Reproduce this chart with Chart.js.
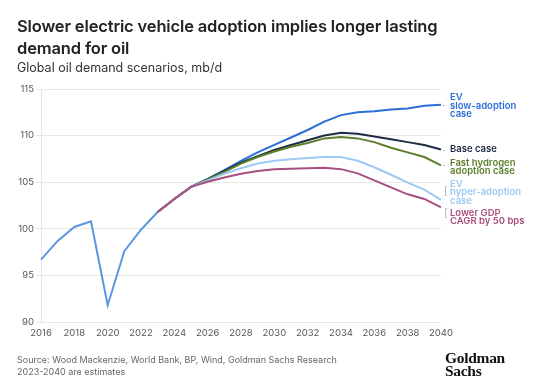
<!DOCTYPE html>
<html>
<head>
<meta charset="utf-8">
<script src="https://cdn.jsdelivr.net/npm/chart.js@4"></script>
<style>
  html, body { margin: 0; padding: 0; background: #fff; }
  #wrap { position: relative; width: 550px; height: 387px; overflow: hidden; font-family: Inter, "Noto Sans", sans-serif; }
  canvas { position: absolute; left: 0; top: 0; }
  .title { position: absolute; left: 17px; top: 15px; font-size: 16.5px; font-weight: 600; line-height: 22px; color: #222; letter-spacing: -0.15px; }
  .sub { position: absolute; left: 17px; top: 60px; font-size: 12.5px; color: #333; }
  .foot { position: absolute; left: 17px; top: 354px; font-size: 9px; line-height: 12px; color: #666; }
  .logo { position: absolute; left: 445px; top: 351px; font-family: "Liberation Serif", "DejaVu Serif", serif; font-weight: bold; font-size: 15.5px; line-height: 13px; color: #111; letter-spacing: -0.3px; }
</style>
</head>
<body>
<div id="wrap">
  <canvas id="c" width="550" height="387"></canvas>
  <div class="title">Slower electric vehicle adoption implies longer lasting<br>demand for oil</div>
  <div class="sub">Global oil demand scenarios, mb/d</div>
  <div class="foot">Source: Wood Mackenzie, World Bank, BP, Wind, Goldman Sachs Research<br>2023-2040 are estimates</div>
  <div class="logo">Goldman<br>Sachs</div>
</div>
<script>
const years = ['2016','2017','2018','2019','2020','2021','2022','2023','2024','2025','2026','2027','2028','2029','2030','2031','2032','2033','2034','2035','2036','2037','2038','2039','2040'];
const yTicks = [90, 95, 100, 105, 110, 115];
// Actual demand 2016-2023
const history = [96.7, 98.7, 100.2, 100.8, 91.8, 97.6, 99.9, 101.8];
// Scenarios 2023-2040
const evSlow  = [101.8, 103.2, 104.5, 105.35, 106.3, 107.3, 108.2, 109.0, 109.8, 110.6, 111.5, 112.2, 112.5, 112.6, 112.8, 112.9, 113.2, 113.3];
const baseCase = [101.8, 103.2, 104.5, 105.3, 106.2, 107.1, 107.8, 108.45, 109.0, 109.5, 110.0, 110.3, 110.2, 109.9, 109.6, 109.3, 109.0, 108.5];
const fastH2  = [101.8, 103.2, 104.5, 105.3, 106.1, 107.0, 107.7, 108.3, 108.8, 109.2, 109.7, 109.85, 109.7, 109.3, 108.7, 108.2, 107.7, 106.8];
const evHyper = [101.8, 103.2, 104.5, 105.2, 105.9, 106.5, 107.0, 107.3, 107.45, 107.6, 107.7, 107.7, 107.3, 106.6, 105.8, 104.95, 104.2, 103.1];
const lowGdp  = [101.8, 103.2, 104.5, 105.05, 105.5, 105.9, 106.2, 106.4, 106.45, 106.5, 106.55, 106.4, 105.95, 105.2, 104.45, 103.7, 103.2, 102.3];

const seriesNames = [
  ['EV', 'slow-adoption', 'case'],
  ['Base case'],
  ['Fast hydrogen', 'adoption case'],
  ['EV', 'hyper-adoption', 'case'],
  ['Lower GDP', 'CAGR by 50 bps']
];
const colors = {
  hist: '#5c96e2', slow: '#2a6fd8', base: '#1d2b44', h2: '#5c7f2c', hyper: '#9dc9f5', gdp: '#a84f80'
};

const pad = (arr, startIdx) => Array(startIdx).fill(null).concat(arr);
const histFull = history.concat(Array(years.length - history.length).fill(null));
const sIdx = years.indexOf('2023');

const labelPlugin = {
  id: 'endLabels',
  afterDatasetsDraw(chart) {
    const ctx = chart.ctx;
    ctx.save();
    ctx.font = '600 9.5px Inter, "Noto Sans", sans-serif';
    ctx.textBaseline = 'alphabetic';
    ctx.textAlign = 'left';
    const x = 450, lh = 8.6;
    const blocks = [
      {lines: seriesNames[0], color: colors.slow, y: 100},
      {lines: seriesNames[1], color: colors.base, y: 152},
      {lines: seriesNames[2], color: colors.h2, y: 165.5},
      {lines: seriesNames[3], color: colors.hyper, y: 186.5},
      {lines: seriesNames[4], color: colors.gdp, y: 215.5}
    ];
    blocks.forEach(b => {
      ctx.fillStyle = b.color;
      b.lines.forEach((t, i) => ctx.fillText(t, x, b.y + i * lh));
    });
    // small connectors
    ctx.strokeStyle = '#bbb';
    ctx.lineWidth = 1;
    const yS = chart.scales.y;
    [evSlow, baseCase, fastH2].forEach(s => {
      const y = Math.round(yS.getPixelForValue(s[s.length - 1])) + 0.5;
      ctx.beginPath(); ctx.moveTo(443, y); ctx.lineTo(445, y); ctx.stroke();
    });
    const br = (y0, y1) => {
      ctx.beginPath(); ctx.moveTo(447, y0); ctx.lineTo(445.5, y0); ctx.lineTo(445.5, y1); ctx.lineTo(447, y1); ctx.stroke();
    };
    br(186.5, 195.5);
    br(208.5, 217.5);
    ctx.restore();
  }
};

new Chart(document.getElementById('c'), {
  type: 'line',
  data: {
    labels: years,
    datasets: [
      {label: 'Lower GDP', data: pad(lowGdp, sIdx), borderColor: colors.gdp},
      {label: 'EV hyper', data: pad(evHyper, sIdx), borderColor: colors.hyper},
      {label: 'Fast hydrogen', data: pad(fastH2, sIdx), borderColor: colors.h2},
      {label: 'Base case', data: pad(baseCase, sIdx), borderColor: colors.base},
      {label: 'EV slow', data: pad(evSlow, sIdx), borderColor: colors.slow},
      {label: 'Actual', data: histFull, borderColor: colors.hist}
    ].map(d => Object.assign(d, {borderWidth: 2, pointRadius: 0, tension: 0, fill: false, spanGaps: false}))
  },
  options: {
    responsive: false,
    animation: false,
    events: [],
    layout: {padding: {top: 89, right: 109, bottom: 45, left: 0}},
    plugins: {legend: {display: false}, tooltip: {enabled: false}, title: {display: false}},
    scales: {
      x: {
        offset: false,
        grid: {display: false},
        border: {display: false},
        afterFit: s => { s.height = 20; },
        ticks: {
          autoSkip: false, maxRotation: 0, padding: -3,
          color: '#555', font: {family: 'Inter', size: 9.5},
          callback: function(v, i) { return (i % 2 === 0) ? years[i] : ''; }
        }
      },
      y: {
        min: 90, max: 115,
        afterFit: s => { s.width = 41; },
        afterBuildTicks: s => { s.ticks = yTicks.map(v => ({value: v})); },
        grid: {color: '#e8e8e8', lineWidth: 1, tickLength: 5, drawTicks: true},
        border: {display: true, color: '#e8e8e8'},
        ticks: {padding: 2, color: '#555', font: {family: 'Inter', size: 9.5}}
      }
    }
  },
  plugins: [labelPlugin]
});
</script>
</body>
</html>
